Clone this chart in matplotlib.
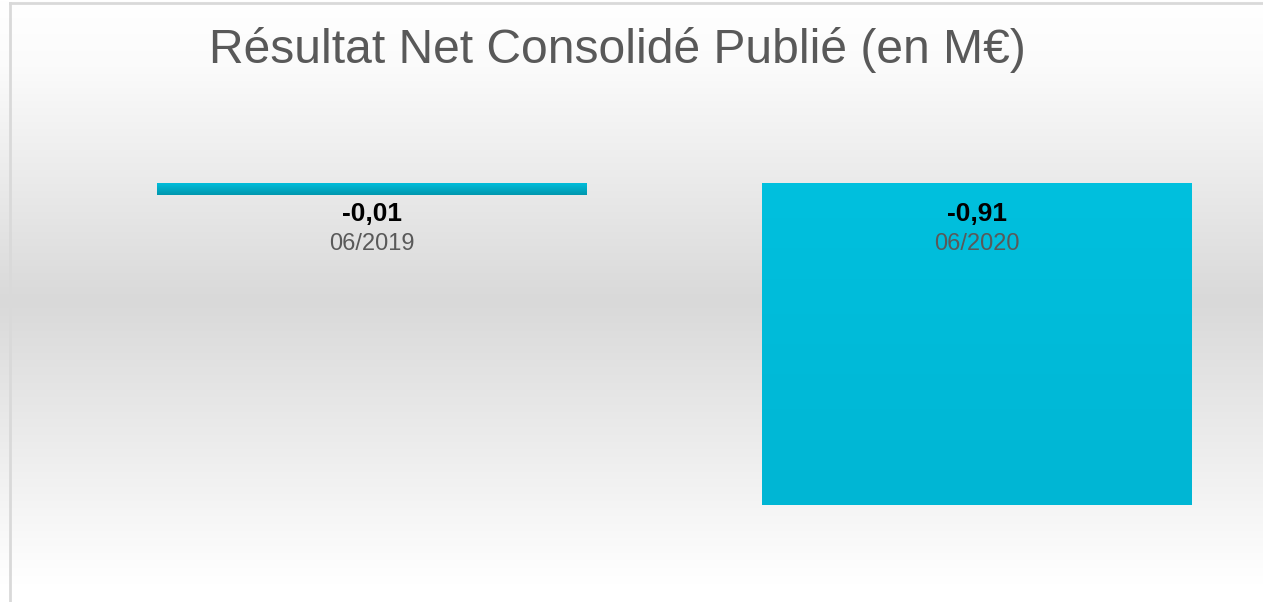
import numpy as np
import matplotlib
matplotlib.use("Agg")
import matplotlib.pyplot as plt
from matplotlib.colors import LinearSegmentedColormap
from matplotlib.lines import Line2D

plt.rcParams['font.family'] = ['Liberation Sans', 'DejaVu Sans']

# data
periods = ["06/2019", "06/2020"]
bar_heights = [-0.035, -0.91]
value_labels = ["-0,01", "-0,91"]
title = "Résultat Net Consolidé Publié (en M€)"

W, H = 1263, 602
fig = plt.figure(figsize=(W / 100, H / 100), dpi=100)

# gradient background (white -> grey -> white)
bg = fig.add_axes([0, 0, 1, 1], zorder=0)
bg_cmap = LinearSegmentedColormap.from_list(
    "bg", [(0.0, "#ffffff"), (0.11, "#fbfbfb"), (0.5, "#d9d9d9"), (0.97, "#ffffff"), (1.0, "#ffffff")])
grad = np.linspace(0, 1, 256).reshape(-1, 1)
bg.imshow(grad, cmap=bg_cmap, aspect="auto", extent=[0, 1, 0, 1], origin="upper")
bg.set_xlim(0, 1)
bg.set_ylim(0, 1)
bg.axis("off")

# frame lines
fig.add_artist(Line2D([10 / W, 1], [1 - 3 / H, 1 - 3 / H], color="#d9d9d9", lw=2))
fig.add_artist(Line2D([10 / W, 10 / W], [0, 1 - 3 / H], color="#d9d9d9", lw=2))

# main axes: category 0 at x=372px, 1 at x=977px; zero line at y=183px
ax = fig.add_axes([0, 0, 1, 1], zorder=1)
ax.patch.set_alpha(0)
px_x = 605.0
px_y = 322 / 0.91
ax.set_xlim(-372 / px_x, (W - 372) / px_x)
ax.set_ylim(-(H - 183) / px_y, 183 / px_y)
ax.axis("off")

x = np.arange(len(periods))
bars = ax.bar(x, bar_heights, width=430 / px_x, color="#00bedc", edgecolor="none", zorder=2)

# vertical shading inside the bars
bottom_cols = ["#0097ae", "#00b6d4"]
for b, c2 in zip(bars, bottom_cols):
    x0, y0 = b.get_x(), b.get_y()
    w, h = b.get_width(), b.get_height()
    cm = LinearSegmentedColormap.from_list("b", ["#00c0de", c2])
    im = ax.imshow(np.linspace(0, 1, 64).reshape(-1, 1), cmap=cm, aspect="auto",
                   extent=[x0, x0 + w, y0 + h, y0] if h < 0 else [x0, x0 + w, y0, y0 + h],
                   origin="upper", zorder=3)
    im.set_clip_path(b)

for xi, vl, per in zip(x, value_labels, periods):
    ax.annotate(vl, (xi, 0), xytext=(0, -31), textcoords="offset pixels",
                ha="center", va="center", fontsize=19, fontweight="bold",
                color="#000000", zorder=4)
    ax.annotate(per, (xi, 0), xytext=(0, -61), textcoords="offset pixels",
                ha="center", va="center", fontsize=17, color="#595959", zorder=4)

fig.text(617 / W, 1 - 63 / H, title, ha="center", va="baseline",
         fontsize=34.6, color="#595959")

fig.savefig("out.png", dpi=100)
